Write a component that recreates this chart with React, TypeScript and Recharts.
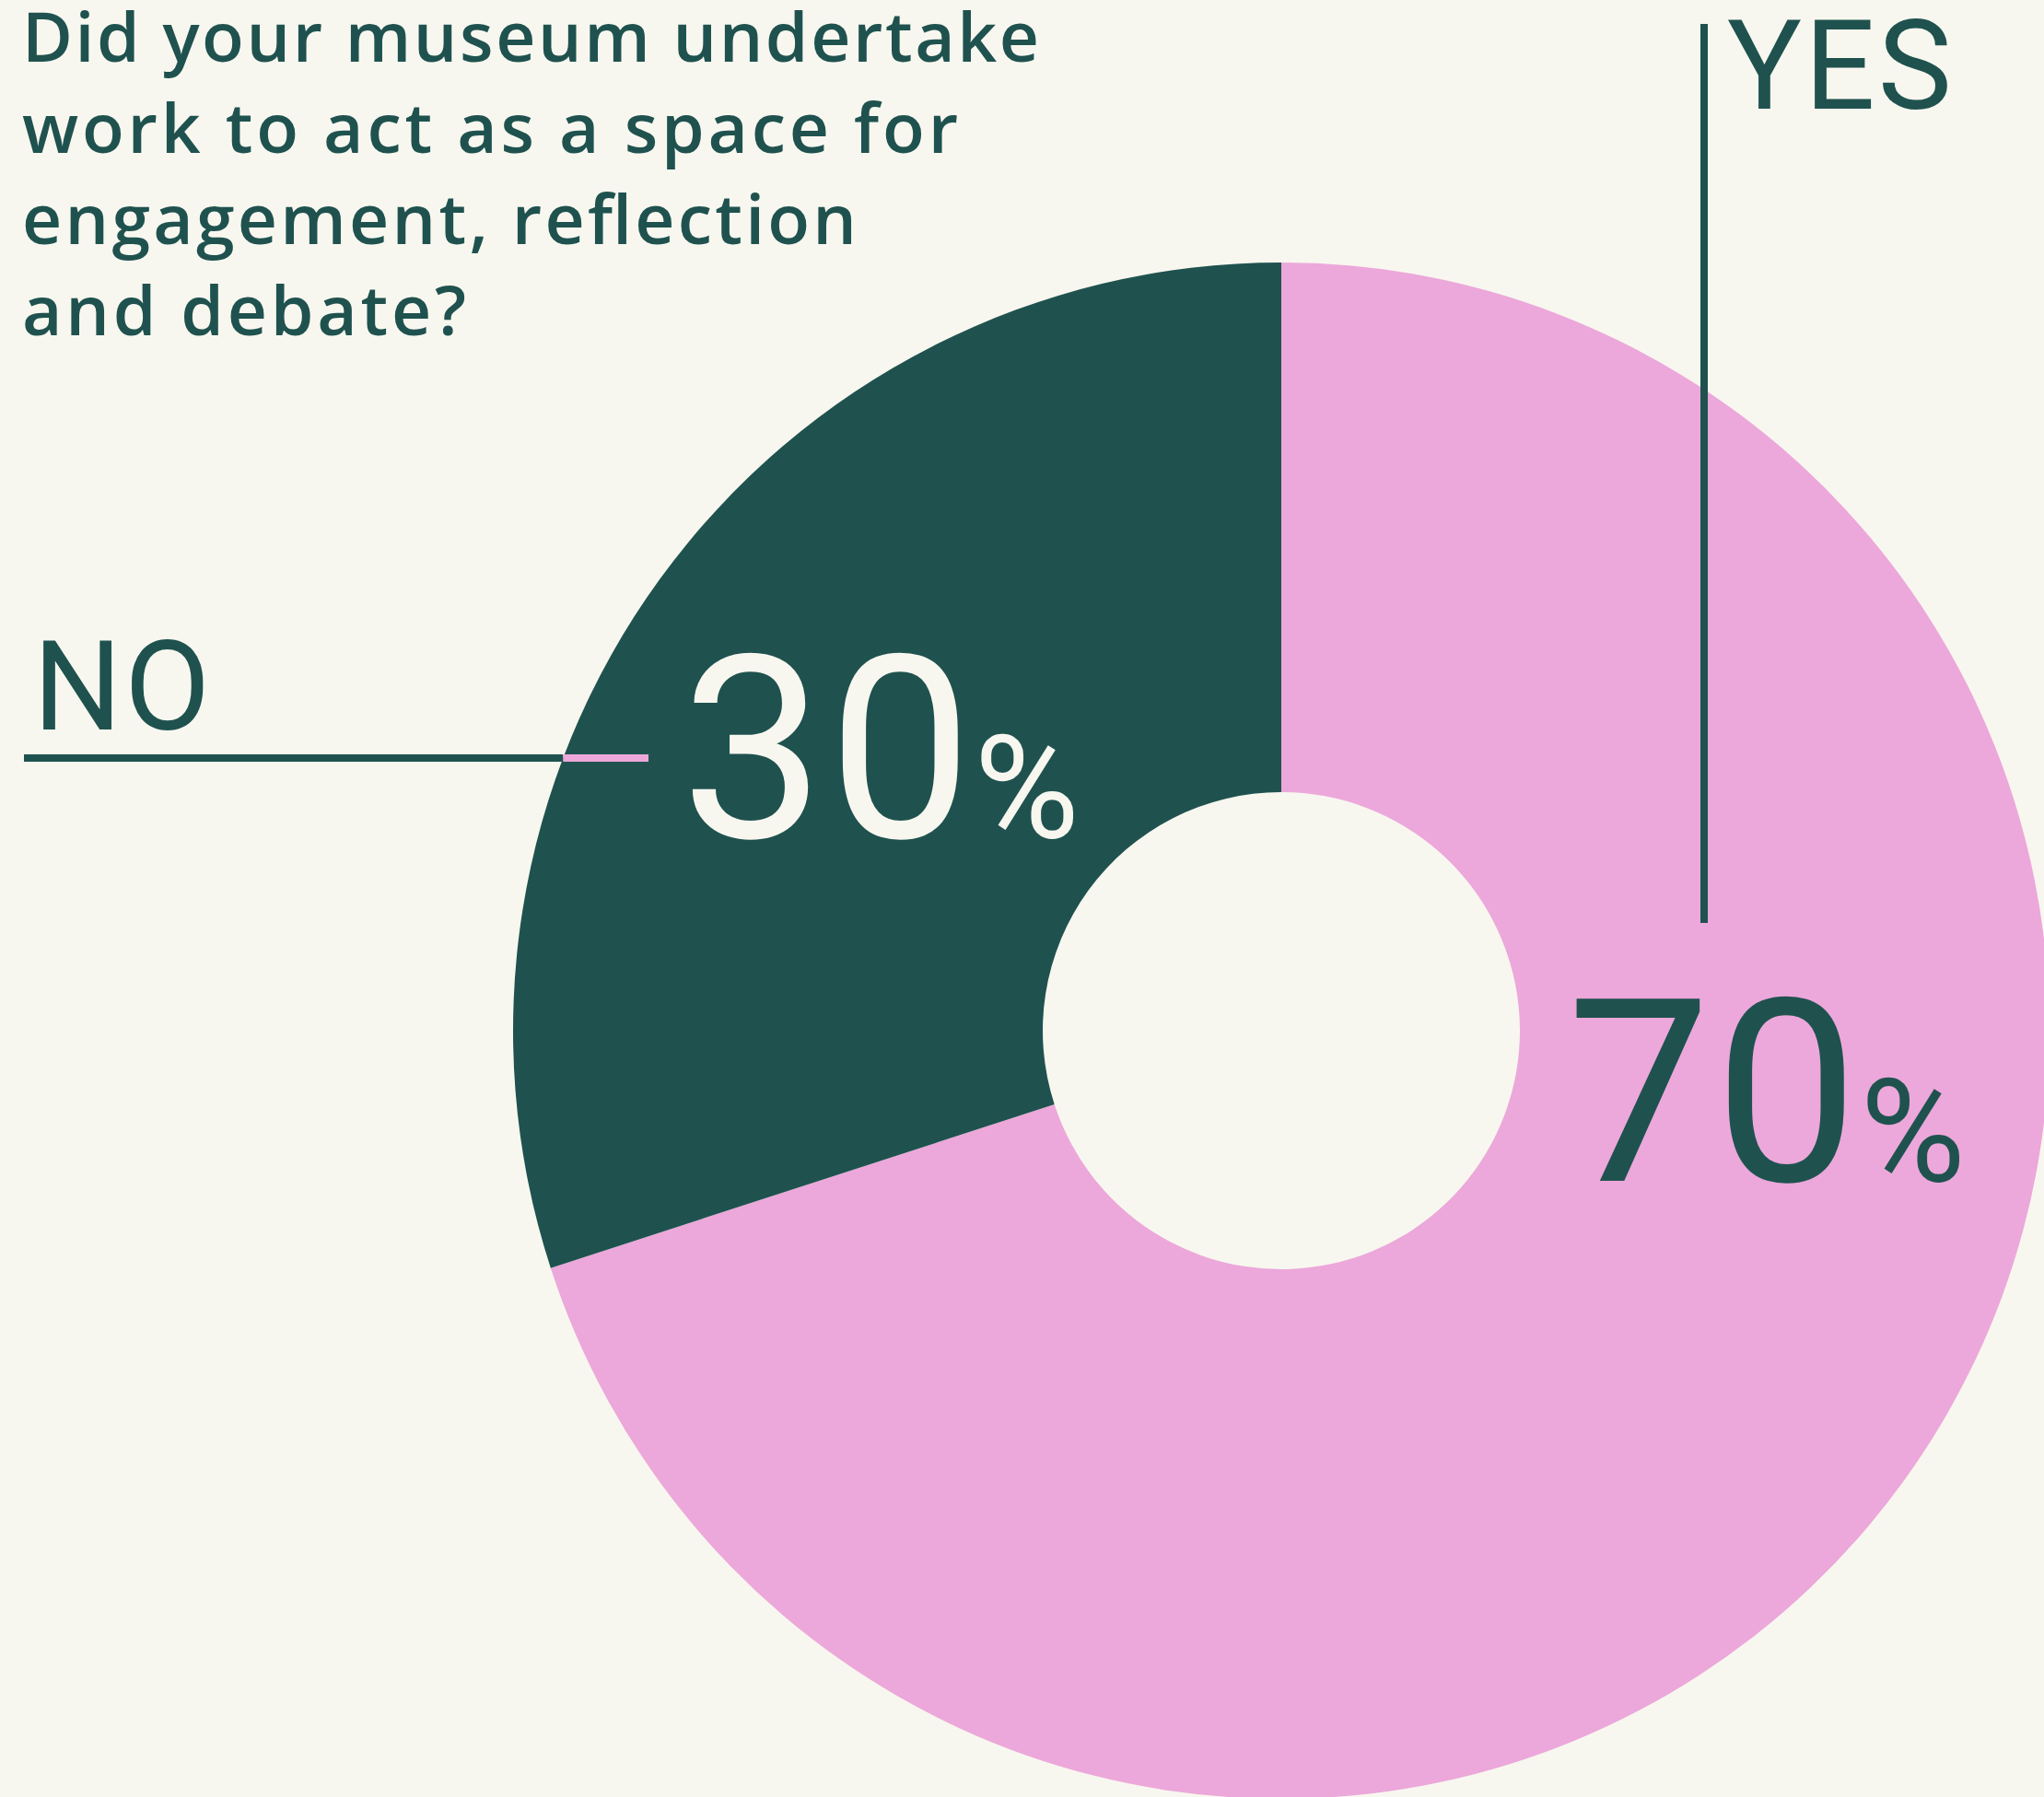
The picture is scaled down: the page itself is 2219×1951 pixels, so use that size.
import React from 'react'
import { PieChart, Pie, Cell } from 'recharts'

// question text, one entry per printed line
const TITLE_LINES = [
  'Did your museum undertake',
  'work to act as a space for',
  'engagement, reflection',
  'and debate?',
]
// printed width of each title line (px)
const TITLE_WIDTHS = [1104, 1016, 906, 482]

// answers and their share of respondents (%)
const ANSWERS = ['YES', 'NO']
const SHARES = [70, 30]

const BG = '#F8F7EF'
const INK = '#1F524F'
const PINK = '#ECA8DA'

const SLICE_COLORS = [PINK, INK]
const VALUE_COLORS = [INK, BG]

const data = ANSWERS.map((name, i) => ({ name, value: SHARES[i] }))

// label placement, offsets from the pie centre
const LABEL_LAYOUT = [
  { value: [310, 163], name: [484, -1001], line: { x: 459, y1: -1093, y2: -117 } },
  { value: [-652, -210], name: [-1355, -327], line: { y: -296, x1: -1365, x2: -687 } },
]

const LINE_W = 8
const LABEL_FONT = 'Roboto, "Noto Sans", sans-serif'

function renderLabel(props: any) {
  const { cx, cy, outerRadius, index, value } = props
  const lay = LABEL_LAYOUT[index]
  const l: any = lay.line
  let leader: React.ReactNode = null
  if (l.x !== undefined) {
    leader = (
      <rect x={cx + l.x - LINE_W / 2} y={cy + l.y1} width={LINE_W} height={l.y2 - l.y1} fill={INK} />
    )
  } else {
    // horizontal leader changes colour where it enters the ring
    const edge = cx - Math.sqrt(outerRadius * outerRadius - l.y * l.y)
    leader = (
      <g>
        <rect x={cx + l.x1} y={cy + l.y - LINE_W / 2} width={edge - (cx + l.x1)} height={LINE_W} fill={INK} />
        <rect x={edge} y={cy + l.y - LINE_W / 2} width={cx + l.x2 - edge} height={LINE_W} fill={PINK} />
      </g>
    )
  }
  return (
    <g key={`lbl-${index}`}>
      {leader}
      <text
        x={cx + lay.name[0]}
        y={cy + lay.name[1]}
        fill={INK}
        fontFamily={LABEL_FONT}
        fontSize={135}
        letterSpacing={3}
        textAnchor="start"
      >
        {ANSWERS[index]}
      </text>
      <text
        x={cx + lay.value[0]}
        y={cy + lay.value[1]}
        fill={VALUE_COLORS[index]}
        fontFamily={LABEL_FONT}
        fontSize={278}
        letterSpacing={4}
        textAnchor="start"
      >
        {value}
        <tspan fontSize={156} dx={-2}>%</tspan>
      </text>
    </g>
  )
}

export default function App() {
  return (
    <div style={{ position: 'absolute', left: 0, top: 0, width: 2219, height: 1951, background: BG, overflow: 'hidden' }}>
      <style>{'body{margin:0}'}</style>
      <PieChart width={2219} height={1951} margin={{ top: 0, right: 0, bottom: 0, left: 0 }}>
        <Pie
          data={data}
          dataKey="value"
          nameKey="name"
          cx={1391}
          cy={1119}
          innerRadius={259}
          outerRadius={834}
          startAngle={90}
          endAngle={-270}
          stroke="none"
          label={renderLabel}
          labelLine={false}
          isAnimationActive={false}
        >
          {data.map((d, i) => (
            <Cell key={d.name} fill={SLICE_COLORS[i]} />
          ))}
        </Pie>
      </PieChart>
      <svg width={1200} height={400} style={{ position: 'absolute', left: 0, top: 0 }}>
        {TITLE_LINES.map((t, i) => (
          <text
            key={t}
            x={24}
            y={67 + i * 99}
            fill={INK}
            fontFamily='"Open Sans", sans-serif'
            fontWeight={600}
            fontSize={75}
            textLength={TITLE_WIDTHS[i]}
            lengthAdjust="spacing"
          >
            {t}
          </text>
        ))}
      </svg>
    </div>
  )
}
